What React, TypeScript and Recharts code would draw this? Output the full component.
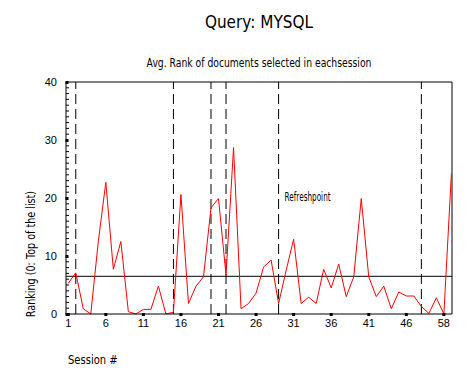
import { LineChart, Line, XAxis, YAxis, ReferenceLine } from 'recharts'

// average rank per session (index = session position on the axis)
const avgRank = [
  5.3, 7.1, 0.9, 0, 12.5, 22.7, 7.7, 12.5, 0.4, 0,
  0.8, 0.8, 4.8, 0, 0.3, 20.6, 1.8, 4.8, 6.4, 18.3,
  19.9, 6.7, 28.7, 0.9, 1.8, 3.6, 8.1, 9.3, 1.8, 7.5,
  12.9, 1.8, 2.9, 1.8, 7.7, 4.5, 8.6, 3.0, 6.4, 19.9,
  6.4, 3.0, 4.8, 0.9, 3.8, 3.1, 3.1, 1.3, 0.1, 2.8,
  0, 24.2,
]
const meanRank = 6.5
const refreshSessions = [2, 15, 20, 22, 29, 48]
const xTicks = [1, 6, 11, 16, 21, 26, 31, 36, 41, 46, 51]
const xTickLabels = ['1', '6', '11', '16', '21', '26', '31', '36', '41', '46', '58']
const yMajorTicks = [0, 10, 20, 30, 40]

const textFont = "'DejaVu Sans', 'Liberation Sans', sans-serif"
const tickFont = "'Liberation Sans', Arial, sans-serif"

const data = avgRank.map((rank, i) => ({ session: i + 1, rank }))
const yTicks = Array.from({ length: 41 }, (_, i) => i)

function YTick({ x, y, payload }: any) {
  const major = yMajorTicks.includes(payload.value)
  return (
    <g>
      {major ? (
        <rect x={x - 0.5} y={y - 1} width={3} height={3} fill="#000" />
      ) : (
        <line x1={x} x2={x + 3} y1={y} y2={y} stroke="#000" />
      )}
      {major && (
        <text x={x - 9} y={y} dy={4} textAnchor="end" fontSize={11} fontFamily={tickFont} fill="#000">
          {payload.value}
        </text>
      )}
    </g>
  )
}

function XTick({ x, y, payload }: any) {
  const idx = xTicks.indexOf(payload.value)
  return (
    <g>
      <rect x={x - 1.5} y={y - 1} width={3} height={3} fill="#000" />
      <text x={x} y={y + 13} textAnchor="middle" fontSize={11} fontFamily={tickFont} fill="#000">
        {idx >= 0 ? xTickLabels[idx] : payload.value}
      </text>
    </g>
  )
}

function RefreshLabel({ viewBox }: any) {
  return (
    <text
      x={viewBox.x + 6}
      y={viewBox.y + 119}
      fontSize={11.5}
      fontFamily={textFont}
      textLength={46}
      lengthAdjust="spacingAndGlyphs"
      fill="#000"
    >
      Refreshpoint
    </text>
  )
}

export default function App() {
  return (
    <div style={{ position: 'absolute', left: 0, top: 0, width: 471, height: 377, background: '#fff' }}>
      <div
        style={{
          position: 'absolute', left: 66, width: 386, top: 11, textAlign: 'center',
          fontFamily: textFont, fontSize: 18, lineHeight: '22px', transform: 'scaleX(0.85)',
        }}
      >
        Query: MYSQL
      </div>
      <div
        style={{
          position: 'absolute', left: 66, width: 386, top: 55, textAlign: 'center',
          fontFamily: textFont, fontSize: 13, lineHeight: '16px', transform: 'scaleX(0.71)',
        }}
      >
        Avg. Rank of documents selected in eachsession
      </div>
      <LineChart width={471} height={377} data={data} margin={{ top: 82, right: 19, left: 26, bottom: 33 }}>
        <XAxis
          dataKey="session"
          type="number"
          domain={[0.7, 52.08]}
          ticks={xTicks}
          interval={0}
          tickSize={0}
          tickMargin={0}
          tick={<XTick />}
          height={30}
          stroke="#000"
          allowDataOverflow
        />
        <YAxis
          type="number"
          domain={[0, 40]}
          ticks={yTicks}
          interval={0}
          tickSize={0}
          tickMargin={0}
          tick={<YTick />}
          width={40}
          stroke="#000"
        />
        <ReferenceLine y={40} stroke="#000" />
        <ReferenceLine x={52.08} stroke="#000" />
        <ReferenceLine y={meanRank} stroke="#000" />
        {refreshSessions.map((s) => (
          <ReferenceLine
            key={s}
            x={s}
            stroke="#000"
            strokeDasharray="10 5"
            label={s === 29 ? <RefreshLabel /> : undefined}
          />
        ))}
        <Line type="linear" dataKey="rank" stroke="#ff0000" strokeWidth={1} dot={false} isAnimationActive={false} />
      </LineChart>
      <div
        style={{
          position: 'absolute', left: 68, top: 352, fontFamily: textFont, fontSize: 12.5,
          lineHeight: '16px', transform: 'scaleX(0.8)', transformOrigin: 'left center',
        }}
      >
        Session #
      </div>
      <div
        style={{
          position: 'absolute',
          left: 31 - 100,
          top: 254 - 8,
          width: 200,
          height: 16,
          lineHeight: '16px',
          textAlign: 'center',
          transform: 'rotate(-90deg) scaleX(0.8)',
          fontFamily: textFont,
          fontSize: 12,
          whiteSpace: 'nowrap',
        }}
      >
        Ranking (0: Top of the list)
      </div>
    </div>
  )
}
